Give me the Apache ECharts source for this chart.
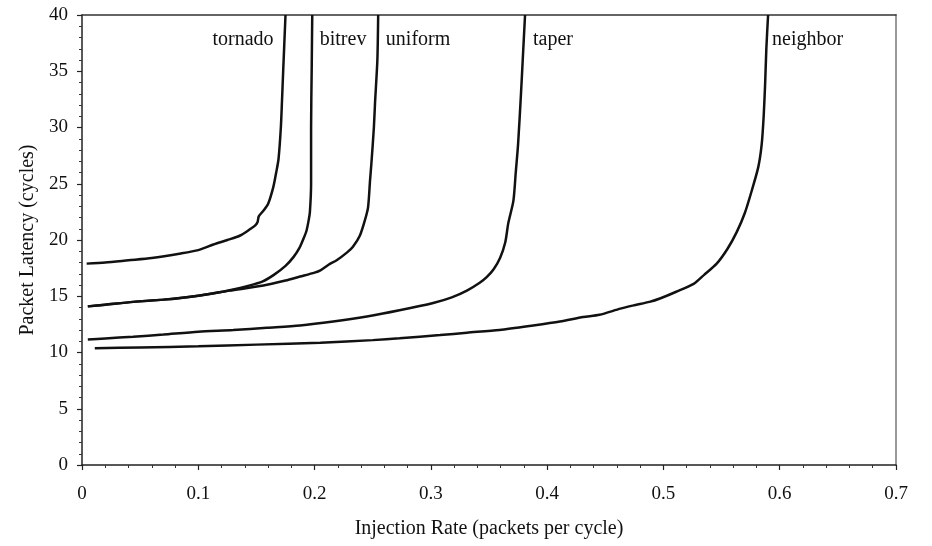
<!DOCTYPE html>
<html>
<head>
<meta charset="utf-8">
<script src="https://cdn.jsdelivr.net/npm/echarts@6/dist/echarts.min.js"></script>
<style>html,body{margin:0;padding:0;background:#fff}#c{width:932px;height:546px}</style>
</head>
<body>
<div id="c"></div>
<script>
const seriesNames = ['tornado', 'bitrev', 'uniform', 'taper', 'neighbor'];
const tornado = [[0.004,17.9],[0.02,18.0],[0.04,18.2],[0.06,18.4],[0.085,18.8],[0.1,19.1],[0.113,19.6],[0.125,20.0],[0.136,20.4],[0.145,21.0],[0.149,21.3],[0.151,21.6],[0.152,22.1],[0.156,22.6],[0.16,23.2],[0.1645,24.7],[0.167,26.0],[0.169,27.2],[0.171,30],[0.172,32.4],[0.173,35],[0.175,40]];
const bitrev = [[0.005,14.1],[0.02,14.25],[0.044,14.5],[0.07,14.7],[0.085,14.85],[0.1,15.05],[0.113,15.26],[0.13,15.6],[0.142,15.9],[0.155,16.3],[0.165,16.9],[0.175,17.7],[0.182,18.5],[0.187,19.3],[0.19,20],[0.193,20.8],[0.195,21.8],[0.196,22.5],[0.197,25],[0.197,30],[0.1975,35],[0.198,40]];
const uniform = [[0.005,14.1],[0.02,14.25],[0.044,14.5],[0.07,14.7],[0.1,15.05],[0.127,15.5],[0.156,15.95],[0.175,16.4],[0.1875,16.75],[0.2,17.1],[0.205,17.3],[0.212,17.8],[0.219,18.2],[0.228,18.9],[0.233,19.4],[0.239,20.4],[0.2434,21.8],[0.246,22.9],[0.2477,25.3],[0.249,27],[0.251,30],[0.252,32.2],[0.254,36],[0.2547,40]];
const taper = [[0.005,11.15],[0.02,11.25],[0.044,11.4],[0.07,11.6],[0.1,11.85],[0.13,12.0],[0.159,12.2],[0.1875,12.4],[0.216,12.75],[0.245,13.2],[0.273,13.75],[0.302,14.4],[0.318,14.9],[0.331,15.5],[0.342,16.2],[0.348,16.7],[0.354,17.4],[0.3595,18.4],[0.364,19.8],[0.3666,21.5],[0.371,23.5],[0.373,26],[0.375,28.5],[0.3775,33],[0.379,36],[0.381,40]];
const neighbor = [[0.011,10.37],[0.05,10.45],[0.1,10.55],[0.15,10.7],[0.205,10.87],[0.25,11.1],[0.273,11.26],[0.308,11.55],[0.331,11.76],[0.359,12.0],[0.388,12.4],[0.411,12.75],[0.431,13.15],[0.445,13.35],[0.463,13.9],[0.475,14.2],[0.488,14.5],[0.497,14.8],[0.511,15.4],[0.526,16.1],[0.535,16.9],[0.5458,17.9],[0.555,19.2],[0.563,20.7],[0.57,22.4],[0.576,24.4],[0.5816,26.5],[0.5845,28.5],[0.5862,31],[0.5875,34],[0.5885,37],[0.59,40]];
const labelPos = [[0.1385,37.8],[0.2245,37.8],[0.289,37.8],[0.405,37.8],[0.624,37.8]];
const xTicks = [0, 0.1, 0.2, 0.3, 0.4, 0.5, 0.6, 0.7];
const yTicks = [0, 5, 10, 15, 20, 25, 30, 35, 40];
const xTitle = 'Injection Rate (packets per cycle)';
const yTitle = 'Packet Latency (cycles)';

const allData = [tornado, bitrev, uniform, taper, neighbor];
const FONT = 'Liberation Serif';
const chart = echarts.init(document.getElementById('c'));
const series = allData.map((d, i) => ({
  name: seriesNames[i],
  type: 'line',
  data: d,
  showSymbol: false,
  symbol: 'none',
  smooth: 0.25,
  lineStyle: { color: '#111', width: 2.5 },
  clip: true,
  markPoint: {
    symbol: 'circle', symbolSize: 0, silent: true,
    data: [{ coord: labelPos[i], value: seriesNames[i] }],
    label: { show: true, position: 'inside', formatter: seriesNames[i], color: '#111', fontFamily: FONT, fontSize: 20 }
  }
}));
chart.setOption({
  animation: false,
  backgroundColor: '#fff',
  grid: { left: 82, right: 36, top: 15, bottom: 81 },
  xAxis: [{
    type: 'value', min: xTicks[0], max: xTicks[xTicks.length - 1], interval: 0.1,
    name: xTitle, nameLocation: 'middle', nameGap: 54,
    nameTextStyle: { fontFamily: FONT, fontSize: 20, color: '#111' },
    axisLine: { lineStyle: { color: '#222', width: 1.5 } },
    axisTick: { inside: false, length: 5, lineStyle: { color: '#222', width: 1.2 } },
    minorTick: { show: true, splitNumber: 5, length: 3, lineStyle: { color: '#333', width: 1 } },
    axisLabel: { fontFamily: FONT, fontSize: 19, color: '#111', margin: 20, formatter: v => String(+v.toFixed(1)) },
    splitLine: { show: false }
  }, {
    type: 'value', position: 'top', min: 0, max: 0.7,
    axisLine: { show: true, onZero: false, lineStyle: { color: '#333', width: 1.5 } },
    axisTick: { show: false }, axisLabel: { show: false }, splitLine: { show: false }
  }],
  yAxis: [{
    type: 'value', min: yTicks[0], max: yTicks[yTicks.length - 1], interval: 5,
    name: yTitle, nameLocation: 'middle', nameGap: 43, nameRotate: 90,
    nameTextStyle: { fontFamily: FONT, fontSize: 20, color: '#111' },
    axisLine: { show: true, lineStyle: { color: '#222', width: 1.5 } },
    axisTick: { show: true, inside: false, length: 5, lineStyle: { color: '#222', width: 1.2 } },
    minorTick: { show: true, splitNumber: 5, length: 3, lineStyle: { color: '#333', width: 1 } },
    axisLabel: { fontFamily: FONT, fontSize: 19, color: '#111', margin: 14 },
    splitLine: { show: false }
  }, {
    type: 'value', position: 'right', min: 0, max: 40,
    axisLine: { show: true, onZero: false, lineStyle: { color: '#999', width: 2 } },
    axisTick: { show: false }, axisLabel: { show: false }, splitLine: { show: false }
  }],
  series: series
});
</script>
</body>
</html>
